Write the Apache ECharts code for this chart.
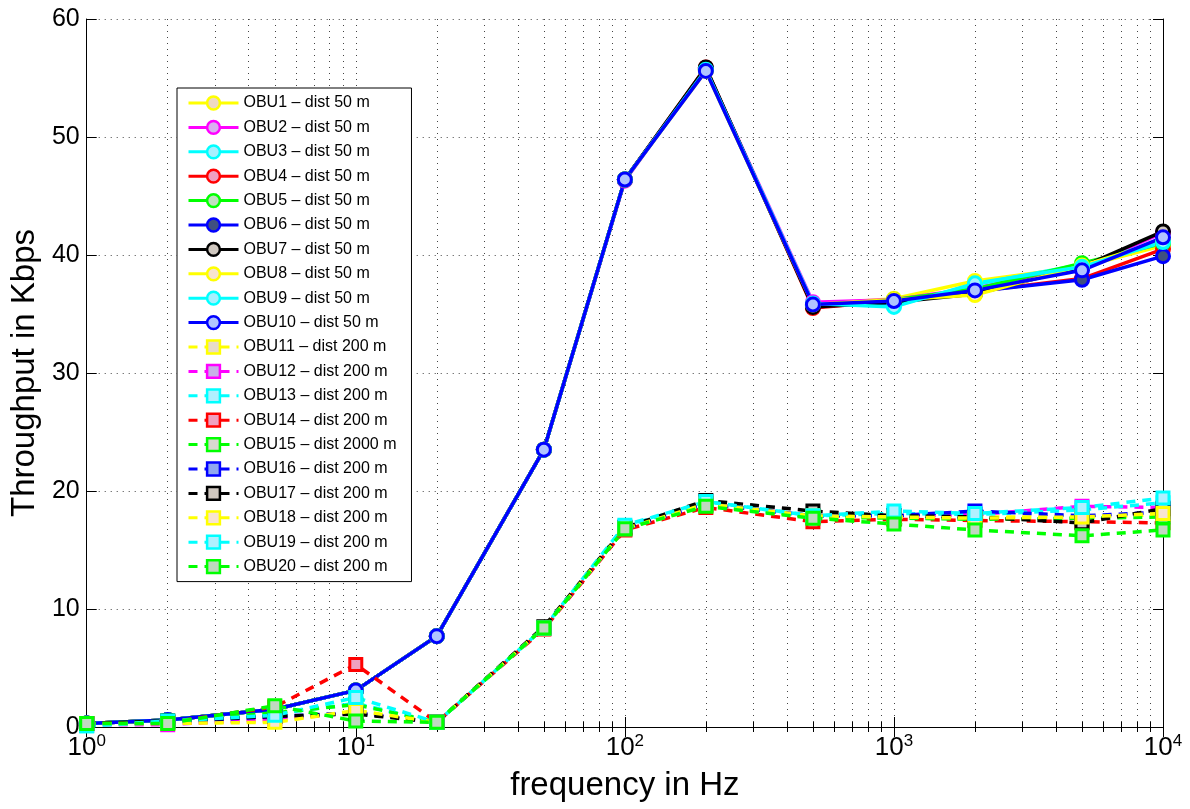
<!DOCTYPE html>
<html>
<head>
<meta charset="utf-8">
<title>Throughput vs frequency</title>
<script src="https://cdn.jsdelivr.net/npm/echarts@6/dist/echarts.min.js"></script>
<style>
    html, body { margin: 0; padding: 0; background: #fff; }
    #chart { width: 1190px; height: 809px; }
</style>
</head>
<body>
<div id="chart"></div>
<script>
var freq = [1, 2, 5, 10, 20, 50, 100, 200, 500, 1000, 2000, 5000, 10000];

// 50 m nodes (solid lines, circles)
var obu1  = [0.3, 0.6, 1.5, 3.1, 7.7, 23.5, 46.4, 55.7, 35.8, 36.3, 37.8, 39.0, 40.8];
var obu2  = [0.3, 0.6, 1.5, 3.1, 7.7, 23.5, 46.3, 55.8, 36.0, 36.2, 37.2, 38.9, 41.9];
var obu3  = [0.3, 0.6, 1.5, 3.1, 7.7, 23.5, 46.4, 55.7, 35.8, 35.7, 37.5, 39.2, 41.2];
var obu4  = [0.3, 0.6, 1.5, 3.1, 7.7, 23.5, 46.4, 55.9, 35.5, 36.1, 36.9, 38.0, 40.5];
var obu5  = [0.3, 0.6, 1.5, 3.1, 7.7, 23.5, 46.4, 55.7, 35.7, 36.2, 37.1, 39.3, 41.0];
var obu6  = [0.3, 0.6, 1.5, 3.1, 7.7, 23.5, 46.4, 55.8, 35.7, 36.0, 36.9, 37.9, 39.9];
var obu7  = [0.3, 0.6, 1.5, 3.1, 7.7, 23.5, 46.4, 55.9, 35.6, 36.0, 36.7, 39.0, 42.0];
var obu8  = [0.3, 0.6, 1.5, 3.1, 7.7, 23.5, 46.4, 55.6, 35.8, 36.2, 36.6, 39.1, 41.2];
var obu9  = [0.3, 0.6, 1.5, 3.1, 7.7, 23.5, 46.4, 55.7, 35.9, 35.6, 37.6, 39.0, 41.1];
var obu10 = [0.3, 0.6, 1.5, 3.1, 7.7, 23.5, 46.4, 55.6, 35.8, 36.1, 37.0, 38.7, 41.5];

// 200 m nodes (dashed lines, squares)
var obu11 = [0.3, 0.3, 0.5, 1.3, 0.4, 8.4, 16.8, 18.9, 17.9, 17.8, 17.8, 17.8, 18.0];
var obu12 = [0.2, 0.2, 0.7, 1.2, 0.4, 8.4, 16.8, 18.9, 17.9, 17.9, 18.0, 18.7, 18.6];
var obu13 = [0.1, 0.4, 1.1, 2.0, 0.4, 8.4, 17.0, 19.1, 17.9, 18.1, 18.0, 18.4, 19.0];
var obu14 = [0.3, 0.4, 1.7, 5.3, 0.4, 8.3, 16.7, 18.6, 17.4, 17.6, 17.5, 17.4, 17.3];
var obu15 = [0.3, 0.5, 1.2, 1.9, 0.4, 8.4, 16.8, 18.8, 17.8, 17.7, 17.6, 17.7, 17.8];
var obu16 = [0.3, 0.4, 0.9, 1.2, 0.4, 8.4, 16.8, 18.9, 17.9, 17.9, 18.3, 17.9, 18.2];
var obu17 = [0.3, 0.5, 0.9, 1.1, 0.4, 8.5, 16.9, 19.2, 18.3, 17.9, 17.8, 17.3, 18.5];
var obu18 = [0.3, 0.3, 0.4, 1.4, 0.4, 8.4, 16.8, 18.9, 17.9, 17.8, 17.7, 17.8, 18.1];
var obu19 = [0.1, 0.5, 1.0, 2.5, 0.4, 8.4, 17.1, 19.1, 17.9, 18.3, 18.1, 18.6, 19.4];
var obu20 = [0.3, 0.3, 1.8, 0.5, 0.4, 8.4, 16.8, 18.7, 17.7, 17.2, 16.7, 16.2, 16.7];

var seriesValues = [obu1, obu2, obu3, obu4, obu5, obu6, obu7, obu8, obu9, obu10,
                    obu11, obu12, obu13, obu14, obu15, obu16, obu17, obu18, obu19, obu20];

var seriesNames = [
    'OBU1 \u2013 dist 50 m', 'OBU2 \u2013 dist 50 m', 'OBU3 \u2013 dist 50 m', 'OBU4 \u2013 dist 50 m',
    'OBU5 \u2013 dist 50 m', 'OBU6 \u2013 dist 50 m', 'OBU7 \u2013 dist 50 m', 'OBU8 \u2013 dist 50 m',
    'OBU9 \u2013 dist 50 m', 'OBU10 \u2013 dist 50 m',
    'OBU11 \u2013 dist 200 m', 'OBU12 \u2013 dist 200 m', 'OBU13 \u2013 dist 200 m', 'OBU14 \u2013 dist 200 m',
    'OBU15 \u2013 dist 2000 m', 'OBU16 \u2013 dist 200 m', 'OBU17 \u2013 dist 200 m', 'OBU18 \u2013 dist 200 m',
    'OBU19 \u2013 dist 200 m', 'OBU20 \u2013 dist 200 m'
];

var lineColors = ['#ffff00', '#ff00ff', '#00ffff', '#ff0000', '#00ff00', '#0000ff', '#000000', '#ffff00', '#00ffff', '#0000ff',
                  '#ffff00', '#ff00ff', '#00ffff', '#ff0000', '#00ff00', '#0000ff', '#000000', '#ffff00', '#00ffff', '#00ff00'];
var faceColors = ['#efd9c3', '#d8b0f0', '#a8f0ff', '#f0a0c0', '#c0e0c0', '#405080', '#d0c8c0', '#f8e4d0', '#a8f0ff', '#b0c4ff',
                  '#e8dcc8', '#c8b0e8', '#b0f0ff', '#f0a0c0', '#d8d8d0', '#90a8f0', '#d0c8c0', '#f8e4d0', '#b0f0ff', '#c0d8c0'];

var fontFamily = '"Liberation Sans", Arial, Helvetica, sans-serif';
var gridDots = { color: '#444', width: 1, type: [1, 5] };

function buildSeries(i) {
    var dashed = i >= 10;
    return {
        name: seriesNames[i],
        type: 'line',
        xAxisIndex: 0,
        yAxisIndex: 0,
        data: freq.map(function (f, k) { return [f, seriesValues[i][k]]; }),
        symbol: dashed ? 'rect' : 'circle',
        symbolSize: dashed ? 12 : 13,
        showAllSymbol: true,
        lineStyle: { color: lineColors[i], width: 3.5, type: dashed ? [9, 7] : 'solid' },
        itemStyle: { color: faceColors[i], borderColor: lineColors[i], borderWidth: 3 },
        emphasis: { disabled: true },
        silent: true
    };
}

var series = [];
for (var i = 0; i < seriesValues.length; i++) {
    series.push(buildSeries(i));
}

var chart = echarts.init(document.getElementById('chart'));
chart.setOption({
    animation: false,
    backgroundColor: '#fff',
    textStyle: { fontFamily: fontFamily },
    grid: { left: 85, right: 27, top: 19, bottom: 82, containLabel: false },
    legend: {
        orient: 'vertical',
        left: 177,
        top: 88,
        data: seriesNames,
        selectedMode: false,
        backgroundColor: '#fff',
        borderColor: '#000',
        borderWidth: 1,
        borderRadius: 0,
        padding: [7, 15, 7, 10],
        itemWidth: 50,
        itemHeight: 16,
        itemGap: 8.4,
        lineStyle: { width: 3 },
        itemStyle: { borderWidth: 2.5 },
        textStyle: { fontSize: 16, color: '#000', fontFamily: fontFamily }
    },
    xAxis: [{
        type: 'log',
        logBase: 10,
        min: 1,
        max: 10000,
        position: 'bottom',
        name: 'frequency in Hz',
        nameLocation: 'middle',
        nameGap: 42,
        nameTextStyle: { fontSize: 33, color: '#000', fontFamily: fontFamily },
        axisLine: { show: true, lineStyle: { color: '#000', width: 1 } },
        axisTick: { show: true, inside: true, length: 10, lineStyle: { color: '#000' } },
        minorTick: { show: true, splitNumber: 9, length: 5, lineStyle: { color: '#000' } },
        splitLine: { show: true, lineStyle: gridDots },
        minorSplitLine: { show: true, lineStyle: gridDots },
        axisLabel: {
            margin: 6,
            color: '#000',
            formatter: function (v) {
                return '{b|10}{s|' + Math.round(Math.log10(v)) + '}';
            },
            rich: {
                b: { fontSize: 26, lineHeight: 30, color: '#000', fontFamily: fontFamily },
                s: { fontSize: 17, verticalAlign: 'top', color: '#000', fontFamily: fontFamily }
            }
        }
    }, {
        type: 'log',
        logBase: 10,
        min: 1,
        max: 10000,
        position: 'top',
        axisLine: { show: true, lineStyle: { color: '#000', width: 1 } },
        axisTick: { show: true, inside: true, length: 10, lineStyle: { color: '#000' } },
        minorTick: { show: true, splitNumber: 9, length: 5, lineStyle: { color: '#000' } },
        splitLine: { show: false },
        axisLabel: { show: false }
    }],
    yAxis: [{
        type: 'value',
        min: 0,
        max: 60,
        interval: 10,
        position: 'left',
        name: 'Throughput in Kbps',
        nameLocation: 'middle',
        nameGap: 41,
        nameTextStyle: { fontSize: 33, color: '#000', fontFamily: fontFamily },
        axisLine: { show: true, lineStyle: { color: '#000', width: 1 } },
        axisTick: { show: true, inside: true, length: 10, lineStyle: { color: '#000' } },
        splitLine: { show: true, lineStyle: gridDots },
        axisLabel: { fontSize: 25, color: '#000', margin: 7, fontFamily: fontFamily }
    }, {
        type: 'value',
        min: 0,
        max: 60,
        interval: 10,
        position: 'right',
        axisLine: { show: true, lineStyle: { color: '#000', width: 1 } },
        axisTick: { show: true, inside: true, length: 10, lineStyle: { color: '#000' } },
        splitLine: { show: false },
        axisLabel: { show: false }
    }],
    series: series
});
</script>
</body>
</html>
